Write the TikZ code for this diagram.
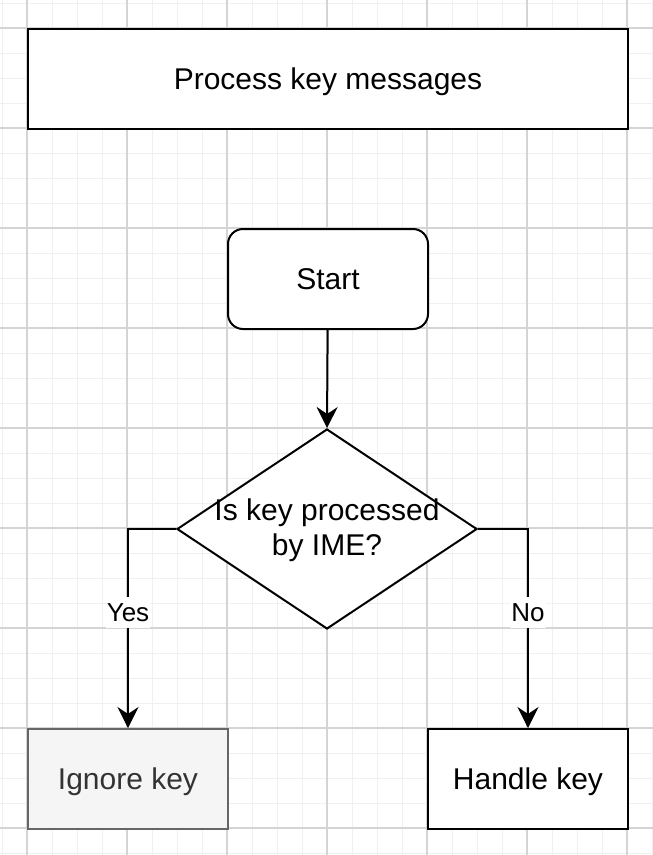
\documentclass[tikz,border=0pt]{standalone}
\usepackage{fontspec}
\setmainfont{Liberation Sans}
\usetikzlibrary{arrows.meta,shapes.geometric}
\definecolor{gridminor}{HTML}{F0F0F0}
\definecolor{gridmajor}{HTML}{D4D4D4}
\definecolor{greyfill}{HTML}{F5F5F5}
\definecolor{greydraw}{HTML}{666666}
\definecolor{greytext}{HTML}{333333}
\tikzset{
  x=1pt, y=-1pt,
  basefont/.style={font=\fontsize{30}{34.5}\selectfont},
  box/.style={draw=black, line width=2pt, fill=white, rectangle,
    minimum width=200pt, minimum height=100pt, inner sep=0pt,
    basefont, text height=21.5pt, text depth=0pt},
  titlebox/.style={box, minimum width=600pt},
  startbox/.style={box, rounded corners=15pt},
  greybox/.style={box, fill=greyfill, draw=greydraw, text=greytext},
  decision/.style={draw=black, line width=2pt, fill=white, diamond,
    minimum width=300pt, minimum height=200pt, inner sep=0pt},
  flow/.style={line width=2pt, ->, >={Stealth[length=21pt,width=21pt,inset=7pt]}},
  edgelabel/.style={fill=white, font=\fontsize{26}{29}\selectfont,
    text height=18.6pt, text depth=0pt, inner xsep=1pt, inner ysep=6pt},
}
\begin{document}
\begin{tikzpicture}
\useasboundingbox (0,0) rectangle (653,855);
\fill[white] (0,0) rectangle (653,855);
% background grid
\foreach \gx in {2,27,...,652} \draw[gridminor, line width=1pt] (\gx,0) -- (\gx,855);
\foreach \gy in {3,28,...,853} \draw[gridminor, line width=1pt] (0,\gy) -- (653,\gy);
\foreach \gx in {27,127,...,627} \draw[gridmajor, line width=1.6pt] (\gx,0) -- (\gx,855);
\foreach \gy in {28,128,...,828} \draw[gridmajor, line width=1.6pt] (0,\gy) -- (653,\gy);

% shapes
\node[titlebox] (title) at (328,79) {Process key messages};
\node[startbox] (start) at (328,279) {Start};
\node[decision] (dec) at (327,529) {};
\node[basefont, align=center] (dectext) at (327,530) {Is key processed\\by IME?};
\node[greybox] (ignore) at (128,779) {Ignore key};
\node[box] (handle) at (528,779) {Handle key};

% connectors
\draw[flow] (start) -- (dec.north);
\draw[flow] (dec.west) -| node[edgelabel, pos=0.71] (yes) {Yes} (ignore.north);
\draw[flow] (dec.east) -| node[edgelabel, pos=0.71] (no) {No} (handle.north);
\end{tikzpicture}
\end{document}
